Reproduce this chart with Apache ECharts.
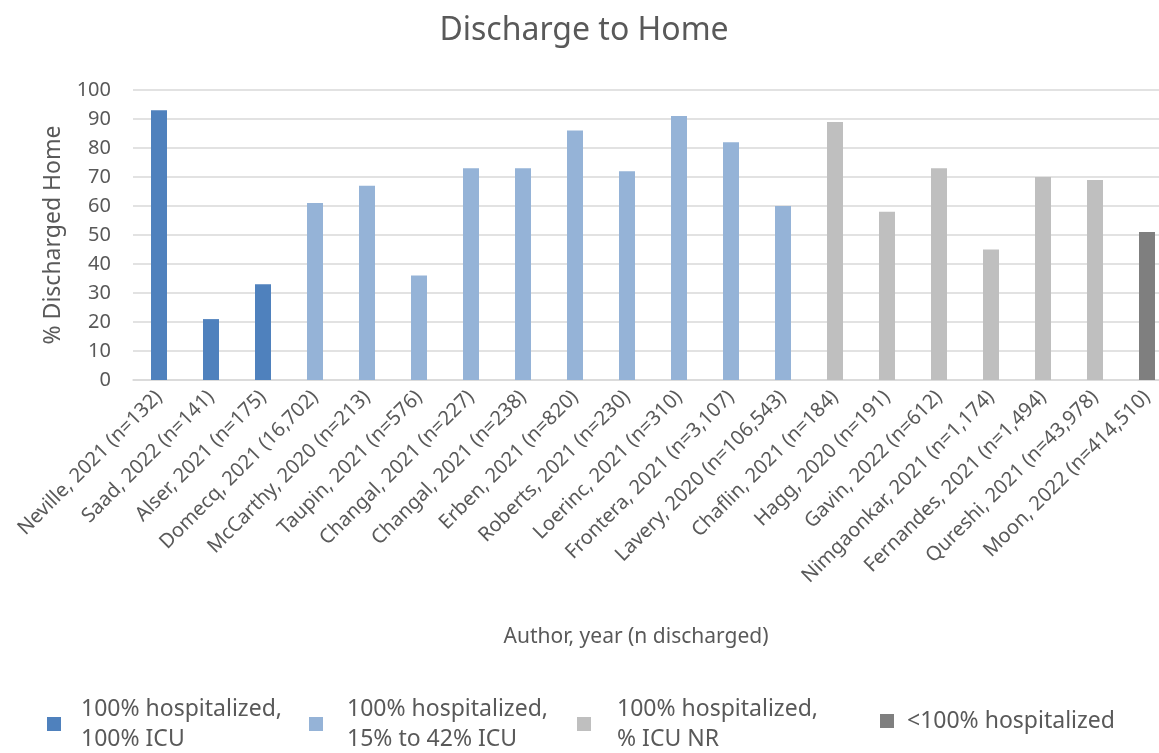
<!DOCTYPE html>
<html>
<head>
  <meta charset="utf-8">
  <title>Discharge to Home</title>
  <script src="https://cdn.jsdelivr.net/npm/echarts@6/dist/echarts.min.js"></script>
  <style type="text/css">
    html, body { margin: 0; padding: 0; background: #fff; overflow: hidden; }
    /* 图比窗口略宽，右边被裁掉一点，和原图一样 */
    #chart { width: 1175px; height: 753px; }
  </style>
</head>
<body>
<div id="chart"></div>
<script>
  // 数据
  var categories = [
    'Neville, 2021 (n=132)', 'Saad, 2022 (n=141)', 'Alser, 2021 (n=175)',
    'Domecq, 2021 (16,702)', 'McCarthy, 2020 (n=213)', 'Taupin, 2021 (n=576)',
    'Changal, 2021 (n=227)', 'Changal, 2021 (n=238)', 'Erben, 2021 (n=820)',
    'Roberts, 2021 (n=230)', 'Loerinc, 2021 (n=310)', 'Frontera, 2021 (n=3,107)',
    'Lavery, 2020 (n=106,543)', 'Chaflin, 2021 (n=184)', 'Hagg, 2020 (n=191)',
    'Gavin, 2022 (n=612)', 'Nimgaonkar, 2021 (n=1,174)', 'Fernandes, 2021 (n=1,494)',
    'Qureshi, 2021 (n=43,978)', 'Moon, 2022 (n=414,510)'
  ];
  var values = [93, 21, 33, 61, 67, 36, 73, 73, 86, 72, 91, 82, 60, 89, 58, 73, 45, 70, 69, 51];
  // 每根柱子所属组别
  var groupOf = [0, 0, 0, 1, 1, 1, 1, 1, 1, 1, 1, 1, 1, 2, 2, 2, 2, 2, 2, 3];
  var groupNames = [
    '100% hospitalized,\n100% ICU',
    '100% hospitalized,\n15% to 42% ICU',
    '100% hospitalized,\n% ICU NR',
    '<100% hospitalized'
  ];
  var groupColors = ['#4F81BD', '#95B3D7', '#BFBFBF', '#7F7F7F'];
  var yTicks = [0, 10, 20, 30, 40, 50, 60, 70, 80, 90, 100];

  var font = 'Noto Sans';
  var grey = '#595959';

  // 每组一个系列，堆叠使柱子居中
  var series = [];
  for (var g = 0; g < groupNames.length; g++) {
    var d = [];
    for (var i = 0; i < values.length; i++) {
      d.push(groupOf[i] === g ? values[i] : '-');
    }
    series.push({
      name: groupNames[g],
      type: 'bar',
      stack: 'all',
      barWidth: 16,
      itemStyle: { color: groupColors[g] },
      data: d
    });
  }

  // 图例分开摆
  var legendLeft = [47, 309, 577, 880];
  var legendPad = [15, 19, 21, 8];
  var legends = [];
  for (var k = 0; k < groupNames.length; k++) {
    var twoLines = groupNames[k].indexOf('\n') > 0;
    legends.push({
      left: legendLeft[k],
      top: twoLines ? 694 : 706,
      padding: 0,
      icon: 'rect',
      itemWidth: 14,
      itemHeight: 14,
      itemGap: 0,
      data: [groupNames[k]],
      textStyle: {
        fontFamily: font, fontSize: 23, color: grey, lineHeight: 30,
        padding: [0, 0, 0, legendPad[k]]
      }
    });
  }

  var chart = echarts.init(document.getElementById('chart'));
  chart.setOption({
    animation: false,
    title: [{
      text: 'Discharge to Home',
      left: 579,
      textAlign: 'center',
      top: 10,
      textStyle: { fontFamily: font, fontSize: 32, fontWeight: 'normal', color: grey }
    }, {
      text: 'Author, year (n discharged)',
      left: 631,
      textAlign: 'center',
      top: 622,
      textStyle: { fontFamily: font, fontSize: 21, fontWeight: 'normal', color: grey }
    }],
    legend: legends,
    grid: { left: 133, right: 2, top: 90, height: 290 },
    xAxis: {
      type: 'category',
      data: categories,
      axisLine: { lineStyle: { color: '#D9D9D9', width: 1.5 } },
      axisTick: { show: false },
      axisLabel: {
        interval: 0, rotate: 45, margin: 14,
        fontFamily: font, fontSize: 20, color: grey
      }
    },
    yAxis: {
      type: 'value',
      min: yTicks[0],
      max: yTicks[yTicks.length - 1],
      interval: 10,
      name: '% Discharged Home',
      nameLocation: 'middle',
      nameGap: 68,
      nameTextStyle: { fontFamily: font, fontSize: 23, color: grey },
      axisLabel: { fontFamily: font, fontSize: 20, color: grey, margin: 22 },
      splitLine: { lineStyle: { color: '#D9D9D9', width: 1.5 } }
    },
    series: series
  });
</script>
</body>
</html>
